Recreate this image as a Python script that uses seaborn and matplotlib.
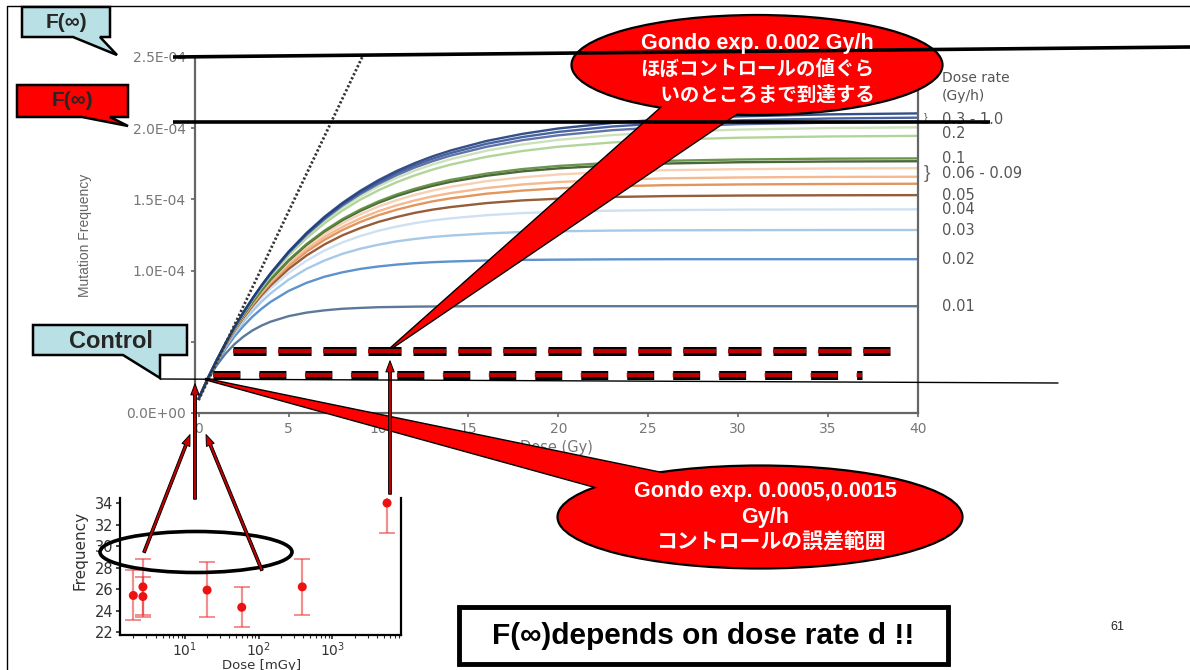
#!/usr/bin/env python3
# -*- coding: utf-8 -*-
"""
Mutation frequency vs. dose for several dose rates, with the Gondo inset
and the slide callouts drawn on top.
"""

import matplotlib
matplotlib.use('Agg')
import matplotlib.pyplot as plt
import matplotlib.transforms as mtransforms
from matplotlib import font_manager
from matplotlib.patches import Polygon, Ellipse, Rectangle, FancyArrowPatch
from matplotlib.ticker import FuncFormatter, LogLocator, NullFormatter
import pandas as pd
import seaborn as sns

# ---- main chart data (mutation frequency in units of 1E-04) ----
dose_gy = [0, 0.5, 1, 1.5, 2, 2.5, 3, 3.5, 4, 5, 6, 7, 8, 9, 10, 11, 12, 13, 14,
           16, 18, 20, 23, 26, 30, 35, 40]

rate_labels = ['1.0', '0.5', '0.3', '0.2', '0.15', '0.12', '0.1', '0.09',
               '0.075', '0.06', '0.05', '0.04', '0.03', '0.02', '0.01']
rate_colors = ['#1f3d7a', '#34529a', '#52649e', '#c5e0b4', '#a9d18e',
               '#5a8a3c', '#375623', '#f8cbad', '#f4b183', '#e08a4c',
               '#8c4a24', '#c9ddf0', '#9dc3e6', '#4a86c8', '#4a6a8e']

freq_1_0 = [0.10, 0.240, 0.370, 0.491, 0.604, 0.709, 0.806, 0.897, 0.981, 1.133, 1.264, 1.378, 1.476, 1.561,
            1.635, 1.699, 1.754, 1.802, 1.843, 1.910, 1.960, 1.998, 2.037, 2.063, 2.083, 2.097, 2.104]
freq_0_5 = [0.10, 0.240, 0.370, 0.490, 0.603, 0.707, 0.804, 0.894, 0.978, 1.128, 1.258, 1.370, 1.467, 1.550,
            1.622, 1.685, 1.739, 1.785, 1.825, 1.890, 1.938, 1.974, 2.012, 2.036, 2.055, 2.068, 2.074]
freq_0_3 = [0.10, 0.240, 0.369, 0.490, 0.602, 0.705, 0.802, 0.891, 0.974, 1.123, 1.251, 1.361, 1.457, 1.539,
            1.609, 1.670, 1.723, 1.768, 1.807, 1.869, 1.916, 1.950, 1.986, 2.009, 2.028, 2.039, 2.045]
freq_0_2 = [0.10, 0.240, 0.369, 0.489, 0.600, 0.703, 0.799, 0.887, 0.969, 1.116, 1.242, 1.350, 1.443, 1.523,
            1.592, 1.651, 1.701, 1.745, 1.782, 1.842, 1.886, 1.918, 1.952, 1.973, 1.990, 2.001, 2.006]
freq_0_15 = [0.10, 0.239, 0.368, 0.488, 0.598, 0.700, 0.794, 0.881, 0.962, 1.105, 1.228, 1.332, 1.422, 1.499,
             1.564, 1.620, 1.668, 1.709, 1.744, 1.799, 1.840, 1.870, 1.900, 1.919, 1.933, 1.942, 1.946]
freq_0_12 = [0.10, 0.239, 0.367, 0.483, 0.591, 0.689, 0.780, 0.863, 0.939, 1.073, 1.186, 1.281, 1.362, 1.429,
             1.486, 1.534, 1.574, 1.608, 1.637, 1.681, 1.713, 1.735, 1.757, 1.771, 1.780, 1.786, 1.788]
freq_0_1 = [0.10, 0.239, 0.366, 0.483, 0.590, 0.688, 0.778, 0.861, 0.936, 1.069, 1.181, 1.275, 1.354, 1.420,
            1.476, 1.523, 1.562, 1.595, 1.623, 1.666, 1.697, 1.718, 1.739, 1.752, 1.761, 1.766, 1.768]
freq_0_09 = [0.10, 0.239, 0.366, 0.482, 0.588, 0.684, 0.773, 0.854, 0.928, 1.058, 1.167, 1.257, 1.333, 1.396,
             1.450, 1.494, 1.531, 1.562, 1.588, 1.628, 1.655, 1.675, 1.694, 1.705, 1.712, 1.717, 1.719]
freq_0_075 = [0.10, 0.239, 0.365, 0.480, 0.584, 0.680, 0.767, 0.846, 0.918, 1.044, 1.149, 1.236, 1.307, 1.367,
              1.417, 1.458, 1.492, 1.521, 1.544, 1.580, 1.605, 1.622, 1.638, 1.648, 1.654, 1.658, 1.659]
freq_0_06 = [0.10, 0.238, 0.364, 0.478, 0.582, 0.676, 0.761, 0.839, 0.910, 1.032, 1.133, 1.216, 1.285, 1.342,
             1.389, 1.427, 1.459, 1.486, 1.507, 1.540, 1.562, 1.578, 1.592, 1.600, 1.605, 1.608, 1.610]
freq_0_05 = [0.10, 0.238, 0.363, 0.475, 0.577, 0.669, 0.752, 0.827, 0.895, 1.011, 1.106, 1.184, 1.248, 1.299,
             1.342, 1.376, 1.405, 1.428, 1.446, 1.474, 1.493, 1.505, 1.517, 1.523, 1.527, 1.529, 1.530]
freq_0_04 = [0.10, 0.237, 0.361, 0.471, 0.570, 0.659, 0.739, 0.810, 0.874, 0.983, 1.070, 1.141, 1.198, 1.243,
             1.280, 1.309, 1.333, 1.352, 1.367, 1.389, 1.404, 1.413, 1.421, 1.425, 1.428, 1.429, 1.430]
freq_0_03 = [0.10, 0.237, 0.357, 0.464, 0.559, 0.642, 0.716, 0.782, 0.840, 0.936, 1.012, 1.071, 1.118, 1.154,
             1.182, 1.205, 1.222, 1.236, 1.246, 1.261, 1.271, 1.276, 1.281, 1.283, 1.284, 1.285, 1.285]
freq_0_02 = [0.10, 0.235, 0.351, 0.451, 0.538, 0.612, 0.677, 0.732, 0.780, 0.857, 0.914, 0.957, 0.988, 1.012,
             1.029, 1.042, 1.052, 1.059, 1.064, 1.071, 1.075, 1.077, 1.079, 1.080, 1.080, 1.080, 1.080]
freq_0_01 = [0.10, 0.230, 0.334, 0.417, 0.484, 0.537, 0.580, 0.614, 0.641, 0.680, 0.705, 0.721, 0.732, 0.738,
             0.743, 0.745, 0.747, 0.748, 0.749, 0.750, 0.750, 0.750, 0.750, 0.750, 0.750, 0.750, 0.750]

# linear (dotted) reference line
linear_dose = [0, 9.1]
linear_freq = [0.09, 2.5]

# right-hand dose rate labels and their heights
label_text = ['0.3 - 1.0', '0.2', '0.1', '0.06 - 0.09', '0.05', '0.04', '0.03', '0.02', '0.01']
label_level = [2.06, 1.96, 1.79, 1.68, 1.53, 1.43, 1.285, 1.08, 0.745]

ytick_values = [0, 0.5, 1.0, 1.5, 2.0, 2.5]
xtick_values = [0, 5, 10, 15, 20, 25, 30, 35, 40]

# ---- inset: Gondo experiment ----
inset_dose = [2.0, 2.7, 2.7, 20, 59, 390, 5500]
inset_freq = [25.4, 26.2, 25.3, 25.9, 24.3, 26.2, 34.0]
inset_low = [23.1, 23.6, 23.4, 23.4, 22.5, 23.6, 31.2]
inset_high = [27.8, 28.8, 27.1, 28.5, 26.2, 28.8, 36.8]
inset_yticks = [22, 24, 26, 28, 30, 32, 34]

# ---- fonts ----
sns.set_style('ticks')
plt.rcParams['font.family'] = ['Liberation Sans', 'Noto Sans CJK JP', 'DejaVu Sans']
plt.rcParams['lines.scale_dashes'] = False
plt.rcParams['axes.unicode_minus'] = False

installed = {f.name for f in font_manager.fontManager.ttflist}
has_narrow = 'Liberation Sans Narrow' in installed

W, H = 1190, 670


def px_box(x0, y0, x1, y1):
    """pixel box (top-left origin) -> figure fraction rect"""
    return [x0 / W, 1 - y1 / H, (x1 - x0) / W, (y1 - y0) / H]


def sci_label(v, pos):
    # the 5.0E-05 label sits under the "Control" box on the slide
    if abs(v - 0.5) < 1e-9:
        return ''
    return f'{v * 1e-4:.1E}'


fig = plt.figure(figsize=(W / 100, H / 100), dpi=100)

# ================= main chart =================
ax = fig.add_axes(px_box(195, 57, 918, 413))

all_curves = [freq_1_0, freq_0_5, freq_0_3, freq_0_2, freq_0_15, freq_0_12,
              freq_0_1, freq_0_09, freq_0_075, freq_0_06, freq_0_05,
              freq_0_04, freq_0_03, freq_0_02, freq_0_01]
rows = []
for name, vals in zip(rate_labels, all_curves):
    for d, f in zip(dose_gy, vals):
        rows.append({'dose': d, 'freq': f, 'rate': name})
df = pd.DataFrame(rows)

sns.lineplot(data=df, x='dose', y='freq', hue='rate',
             hue_order=rate_labels[::-1],
             palette=dict(zip(rate_labels, rate_colors)),
             linewidth=1.7, alpha=0.9, legend=False,
             estimator=None, sort=False, ax=ax)

ax.plot(linear_dose, linear_freq, color='#333333', lw=2.0,
        linestyle=(0, (1.6, 1.6)))

ax.set_xlim(-0.2, 40)
ax.set_ylim(0, 2.5)
ax.set_xticks(xtick_values)
ax.set_yticks(ytick_values)
ax.yaxis.set_major_formatter(FuncFormatter(sci_label))
ax.tick_params(colors='#666666', labelcolor='#777777', labelsize=10,
               length=3, width=1.2)
for lbl in ax.get_xticklabels() + ax.get_yticklabels():
    lbl.set_family(['DejaVu Sans'])
ax.spines['top'].set_visible(False)
for s in ['left', 'bottom', 'right']:
    ax.spines[s].set_color('#666666')
    ax.spines[s].set_linewidth(1.6)
ax.set_xlabel('Dose (Gy)', color='#777777', fontsize=10.5, family=['DejaVu Sans'])
ax.set_ylabel('Mutation Frequency', color='#666666', fontsize=10)
ax.xaxis.set_label_coords(0.5, -0.075)
ax.yaxis.set_label_coords(-0.142, 0.5)

# dose-rate labels on the right
trans = mtransforms.blended_transform_factory(ax.transAxes, ax.transData)
for txt, lev in zip(label_text, label_level):
    ax.text(1.033, lev, txt, transform=trans, va='center', ha='left',
            fontsize=10.5, color='#555555', family=['DejaVu Sans'])
ax.text(1.008, 2.07, '}', transform=trans, va='center', fontsize=8, color='#555555')
ax.text(1.008, 1.68, '}', transform=trans, va='center', fontsize=14,
        color='#666666', fontweight='light')

# ================= inset =================
ax_in = fig.add_axes(px_box(120, 498, 401, 635))
ax_in.set_xscale('log')
ax_in.errorbar(inset_dose, inset_freq,
               yerr=[[f - lo for f, lo in zip(inset_freq, inset_low)],
                     [hi - f for f, hi in zip(inset_freq, inset_high)]],
               fmt='none', ecolor=(0.9, 0.2, 0.2, 0.55), elinewidth=1.6,
               capsize=6, capthick=1.4)
sns.scatterplot(x=inset_dose, y=inset_freq, color='#ee1111', s=42,
                edgecolor='none', ax=ax_in, zorder=3)
ax_in.set_xlim(1.32, 8500)
ax_in.set_ylim(21.72, 34.47)
ax_in.set_yticks(inset_yticks)
ax_in.xaxis.set_major_locator(LogLocator(base=10, numticks=10))
ax_in.xaxis.set_minor_locator(LogLocator(base=10, subs=range(2, 10), numticks=20))
ax_in.xaxis.set_minor_formatter(NullFormatter())
ax_in.tick_params(labelsize=10.5, labelcolor='#333333', length=3, width=1.2, pad=1.5)
ax_in.tick_params(axis='x', labelsize=10, pad=1)
ax_in.tick_params(which='minor', length=2, width=0.8)
for lbl in ax_in.get_xticklabels() + ax_in.get_yticklabels():
    lbl.set_family(['DejaVu Sans'])
ax_in.spines['top'].set_visible(False)
for s in ['left', 'bottom', 'right']:
    ax_in.spines[s].set_color('black')
    ax_in.spines[s].set_linewidth(1.6)
ax_in.set_ylabel('Frequency', fontsize=11, color='#333333', family=['DejaVu Sans'])
ax_in.set_xlabel('Dose [mGy]', fontsize=9.5, color='#333333', family=['DejaVu Sans'])
ax_in.yaxis.set_label_coords(-0.115, 0.62)
ax_in.xaxis.set_label_coords(0.505, -0.172)

# ================= slide overlay (pixel coordinates) =================
ov = fig.add_axes([0, 0, 1, 1], zorder=10)
ov.set_xlim(0, W)
ov.set_ylim(H, 0)
ov.axis('off')

# slide frame
ov.plot([7, 7, W], [H, 6, 6], color='black', lw=1.0)

# F(inf) level lines and control line
ov.plot([173, W], [57, 47], color='black', lw=2.6, solid_capstyle='butt')
ov.plot([173, 990], [122, 122], color='black', lw=2.6, solid_capstyle='butt')
ov.plot([160, 1058], [379, 383], color='black', lw=1.0)

# dashed control-error band lines
for x0, x1, y, dash in [(233, 890, 351, (23.8, 8.6)), (213, 862, 375, (19.4, 13.7))]:
    ov.plot([x0, x1], [y, y], color='black', lw=6.5, dashes=dash,
            dash_capstyle='butt')
    ov.plot([x0, x1], [y, y], color='#c00000', lw=3.0, dashes=dash,
            dash_capstyle='butt')

# label boxes with pointers
cyan = '#b9e0e4'
ov.add_patch(Polygon([(22, 7), (110, 7), (110, 37), (100, 37), (117, 55), (73, 37), (22, 37)],
                     closed=True, fc=cyan, ec='black', lw=1.8))
ov.text(66, 22, 'F(∞)', ha='center', va='center', fontsize=15, fontweight='bold')

ov.add_patch(Polygon([(17, 85), (128, 85), (128, 117), (110, 117), (128, 126), (82, 117), (17, 117)],
                     closed=True, fc='#ff0000', ec='black', lw=1.8))
ov.text(72, 101, 'F(∞)', ha='center', va='center', fontsize=15, fontweight='bold')

ov.add_patch(Polygon([(33, 325), (187, 325), (187, 355), (160, 355), (160, 378), (123, 355), (33, 355)],
                     closed=True, fc=cyan, ec='black', lw=1.8))
ov.text(111, 341, 'Control', ha='center', va='center', fontsize=17, fontweight='bold')


def speech_oval(center, width, height, tail):
    ov.add_patch(Polygon(tail, closed=True, fc='#ff0000', ec='black', lw=2.0))
    ov.add_patch(Ellipse(center, width, height, fc='#ff0000', ec='black', lw=1.6))
    ov.add_patch(Polygon(tail, closed=True, fc='#ff0000', ec='none'))


speech_oval((757, 65), 371, 100, [(670, 100), (745, 108), (390, 349)])
ov.text(757, 43, 'Gondo exp. 0.002 Gy/h', ha='center', va='center',
        color='white', fontsize=15.5, fontweight='bold')
ov.text(757, 69, 'ほぼコントロールの値ぐら', ha='center', va='center',
        color='white', fontsize=14, fontweight='bold')
ov.text(765, 95, ' いのところまで到達する', ha='center', va='center',
        color='white', fontsize=14, fontweight='bold')

speech_oval((760, 517), 405, 103, [(205, 379), (700, 481), (650, 502)])
ov.text(765, 491, 'Gondo exp. 0.0005,0.0015', ha='center', va='center',
        color='white', fontsize=15.5, fontweight='bold')
ov.text(765, 517, 'Gy/h', ha='center', va='center',
        color='white', fontsize=15.5, fontweight='bold')
ov.text(771, 543, 'コントロールの誤差範囲', ha='center', va='center',
        color='white', fontsize=15, fontweight='bold')

# ellipse around the low-dose inset points
ov.add_patch(Ellipse((196, 552), 192, 41, fc='none', ec='black', lw=2.6))

# red arrows
for a, b in [((195, 502), (195, 381)), ((143, 555), (191, 432)),
             ((263, 573), (205, 432)), ((390, 497), (390, 358))]:
    ov.add_patch(FancyArrowPatch(a, b, arrowstyle='simple,head_length=8,head_width=6,tail_width=2',
                                 mutation_scale=1, fc='#cc0000', ec='black', lw=0.7))

# legend header
ov.text(942, 78, 'Dose rate', ha='left', va='center', fontsize=10,
        color='#555555', family=['DejaVu Sans'])
ov.text(942, 96, '(Gy/h)', ha='left', va='center', fontsize=10,
        color='#555555', family=['DejaVu Sans'])

# bottom message box
ov.add_patch(Rectangle((459, 607), 489, 57, fc='white', ec='black', lw=3.5))
if has_narrow:
    ov.text(703, 636, 'F(∞)depends on dose rate d !!', ha='center', va='center',
            fontsize=26, fontweight='bold', color='black',
            family=['Liberation Sans Narrow', 'Noto Sans CJK JP', 'DejaVu Sans'])
else:
    ov.text(703, 636, 'F(∞)depends on dose rate d !!', ha='center', va='center',
            fontsize=21.5, fontweight='bold', color='black')

ov.text(1117, 627, '61', ha='center', va='center', fontsize=9)

fig.savefig('out.png', dpi=100)
